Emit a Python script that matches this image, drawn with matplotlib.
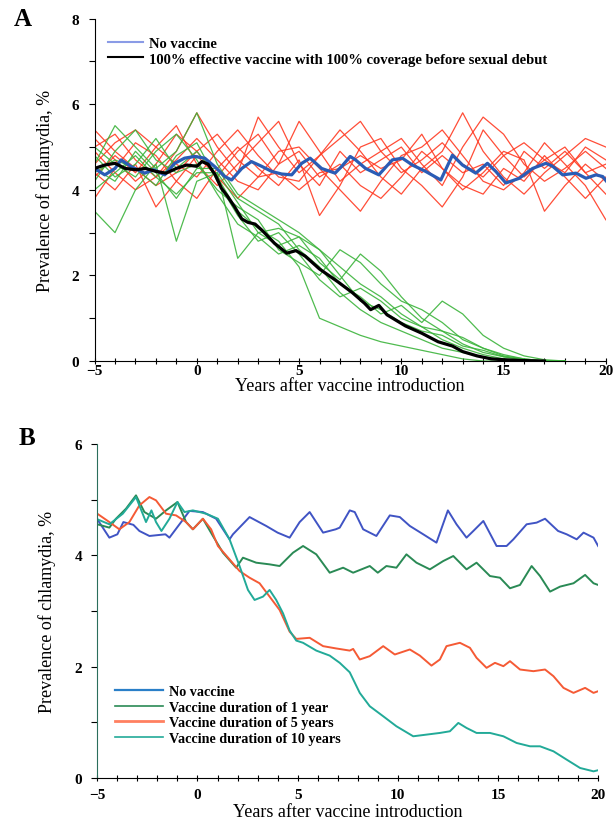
import numpy as np
import matplotlib.pyplot as plt
from matplotlib.ticker import MultipleLocator

# ---- panel A data ----
years_red = list(range(-5, 21))
red_runs = [
    [5.0, 5.3, 4.7, 4.3, 4.9, 5.8, 5.0, 4.4, 5.7, 5.0, 4.4, 4.8, 5.2, 5.6, 4.9, 4.4, 4.7, 5.1, 4.6, 4.3, 4.8, 5.1, 4.7, 4.4, 5.0, 4.7],
    [4.4, 4.0, 4.6, 3.6, 4.2, 4.8, 4.3, 4.9, 5.3, 4.6, 5.6, 4.9, 4.2, 4.6, 4.9, 5.2, 4.6, 4.1, 5.0, 5.7, 5.3, 4.6, 4.2, 4.5, 4.9, 4.5],
    [3.8, 4.5, 5.1, 4.8, 4.2, 3.8, 4.5, 5.0, 4.5, 4.1, 4.7, 3.4, 4.1, 5.0, 5.2, 4.5, 4.1, 3.6, 4.3, 5.4, 4.8, 4.3, 4.7, 5.0, 4.4, 3.9],
    [5.2, 4.7, 4.2, 4.6, 5.3, 4.9, 4.3, 3.8, 4.3, 4.9, 5.0, 4.5, 4.0, 3.5, 4.2, 4.8, 5.0, 5.4, 4.8, 4.2, 4.0, 4.4, 5.1, 4.6, 4.1, 3.3],
    [4.6, 5.1, 5.4, 5.0, 4.6, 4.3, 4.9, 5.4, 4.8, 4.3, 4.2, 4.8, 5.4, 4.9, 4.3, 3.9, 4.5, 4.9, 5.8, 4.9, 4.3, 3.9, 4.4, 4.8, 5.2, 5.0],
    [4.9, 4.4, 4.0, 4.3, 4.7, 5.2, 4.7, 4.2, 4.0, 4.6, 4.9, 4.3, 4.6, 4.1, 3.8, 4.3, 4.9, 4.5, 4.0, 4.4, 4.9, 4.7, 3.5, 4.1, 4.6, 4.2],
    [4.3, 4.8, 4.4, 5.0, 5.5, 4.6, 4.1, 4.6, 5.1, 5.6, 4.6, 4.1, 4.9, 4.4, 4.7, 5.0, 4.4, 4.8, 4.4, 4.6, 4.1, 4.9, 4.5, 4.9, 4.4, 4.6],
    [5.4, 4.9, 4.5, 4.1, 4.4, 4.9, 5.3, 4.7, 4.3, 4.4, 4.0, 4.4, 4.5, 4.8, 4.5, 4.7, 5.3, 4.5, 4.1, 3.9, 4.5, 4.2, 4.8, 4.3, 3.8, 4.3],
]

years_green = list(range(-5, 19))
green_runs = [
    [4.6, 5.5, 5.0, 4.5, 4.9, 5.8, 4.6, 3.9, 3.6, 3.3, 3.0, 2.6, 2.2, 1.8, 1.5, 1.1, 0.8, 0.5, 0.3, 0.15, 0.05, 0, 0, 0],
    [3.5, 3.0, 4.0, 4.6, 2.8, 4.2, 4.4, 2.4, 3.0, 2.7, 2.9, 2.3, 1.9, 2.5, 2.1, 1.5, 1.0, 0.7, 0.4, 0.2, 0.1, 0.03, 0, 0],
    [4.8, 4.3, 4.6, 5.2, 4.5, 4.9, 4.3, 3.5, 3.1, 2.8, 2.2, 1.0, 0.8, 0.6, 0.45, 0.35, 0.25, 0.15, 0.05, 0, 0, 0, 0, 0],
    [4.2, 4.9, 5.4, 4.7, 4.4, 4.6, 4.0, 3.6, 3.3, 2.6, 2.3, 2.0, 2.6, 2.3, 1.8, 1.4, 1.2, 0.9, 0.5, 0.3, 0.15, 0.05, 0, 0],
    [5.0, 4.6, 4.3, 4.9, 5.3, 4.7, 3.9, 3.2, 2.9, 2.5, 2.7, 2.4, 1.8, 1.5, 1.1, 1.3, 0.9, 1.4, 1.1, 0.6, 0.3, 0.12, 0.03, 0],
    [4.5, 4.2, 4.9, 4.4, 3.8, 4.5, 4.5, 3.8, 3.5, 3.2, 2.6, 2.2, 1.6, 1.2, 0.9, 0.7, 0.5, 0.3, 0.2, 0.1, 0.03, 0, 0, 0],
    [4.4, 4.7, 4.5, 4.1, 4.8, 5.1, 4.2, 3.4, 2.8, 3.0, 2.5, 1.9, 1.5, 1.7, 1.4, 1.0, 0.8, 0.7, 0.55, 0.3, 0.12, 0.05, 0, 0],
    [4.0, 4.4, 4.8, 4.3, 3.9, 4.4, 4.4, 3.7, 3.0, 3.1, 2.9, 2.6, 2.0, 1.4, 1.2, 0.9, 0.7, 0.6, 0.35, 0.25, 0.1, 0.02, 0, 0],
]

a_blue_x = [-5, -4.5, -4, -3.7, -3.2, -2.55, -2.1, -1.57, -1.08, -0.6, -0.1, 0.39, 0.88, 1.37, 1.7, 2.2, 2.67,
            3.17, 3.66, 4.15, 4.64, 5.13, 5.54, 6.1, 6.76, 7.09, 7.5, 7.76, 8.25, 8.9, 9.56, 10.05, 10.54,
            11.19, 11.93, 12.5, 12.99, 13.64, 14.21, 14.62, 15.11, 15.77, 16.42, 17.07, 17.4, 17.89, 18.54,
            19.03, 19.52, 19.85, 20.1]
a_blue_y = [4.5, 4.35, 4.5, 4.7, 4.54, 4.39, 4.47, 4.35, 4.62, 4.74, 4.78, 4.74, 4.54, 4.31, 4.23, 4.5, 4.66,
            4.55, 4.43, 4.37, 4.35, 4.62, 4.74, 4.5, 4.39, 4.55, 4.78, 4.7, 4.5, 4.35, 4.7, 4.74, 4.58,
            4.43, 4.23, 4.81, 4.58, 4.39, 4.62, 4.43, 4.16, 4.27, 4.5, 4.62, 4.55, 4.35, 4.39,
            4.27, 4.35, 4.31, 4.16]

a_black_x = [-5, -4.5, -4, -3.5, -3, -2.5, -2, -1.5, -1, -0.5, 0, 0.25, 0.55, 0.9, 1.2, 1.5, 1.85, 2.2, 2.5,
             2.85, 3.2, 3.8, 4.4, 4.85, 5.3, 6.0, 6.9, 7.6, 8.2, 8.5, 8.9, 9.3, 10.2, 11.0, 11.8, 12.5, 13.0,
             13.7, 14.4, 15.0, 16.0, 17.0]
a_black_y = [4.5, 4.58, 4.62, 4.5, 4.47, 4.5, 4.43, 4.39, 4.5, 4.58, 4.55, 4.66, 4.6, 4.35, 4.04, 3.85, 3.6,
             3.32, 3.24, 3.2, 3.05, 2.75, 2.52, 2.58, 2.45, 2.15, 1.85, 1.6, 1.35, 1.2, 1.3, 1.08, 0.82,
             0.65, 0.45, 0.35, 0.22, 0.12, 0.05, 0.03, 0.01, 0.0]

# ---- panel B data ----
b_novac_x = [-5, -4.4, -4.0, -3.7, -3.2, -2.9, -2.4, -1.6, -1.4, -0.4, 0.27, 0.93, 1.6, 1.77, 2.6, 3.43, 4.0,
             4.6, 5.1, 5.6, 6.27, 6.9, 7.1, 7.6, 7.85, 8.27, 8.93, 9.6, 10.1, 10.6, 11.27, 11.93, 12.5,
             12.93, 13.43, 13.77, 14.27, 14.93, 15.43, 15.77, 16.43, 16.93, 17.35, 18.0, 18.43, 18.93,
             19.27, 19.77, 20.0]
b_novac_y = [4.65, 4.32, 4.38, 4.6, 4.55, 4.44, 4.35, 4.38, 4.32, 4.8, 4.78, 4.66, 4.29, 4.38, 4.69, 4.53,
             4.41, 4.32, 4.6, 4.78, 4.41, 4.47, 4.5, 4.81, 4.78, 4.47, 4.35, 4.72, 4.69, 4.53, 4.38, 4.23,
             4.81, 4.56, 4.32, 4.44, 4.62, 4.17, 4.17, 4.29, 4.56, 4.59, 4.66, 4.44, 4.38, 4.29,
             4.41, 4.32, 4.17]

b_1yr_x = [-5, -4.4, -4.07, -3.57, -3.07, -2.65, -2.07, -1.57, -1.0, -0.57, -0.23, 0.27, 0.77, 1.27, 1.93,
           2.27, 2.93, 3.6, 4.1, 4.77, 5.27, 5.93, 6.6, 7.27, 7.77, 8.6, 9.0, 9.43, 9.93, 10.43, 10.93,
           11.6, 12.27, 12.77, 13.43, 13.93, 14.6, 15.1, 15.6, 16.1, 16.68, 17.1, 17.6, 18.1, 18.77, 19.35,
           19.77, 20.0]
b_1yr_y = [4.56, 4.5, 4.66, 4.84, 5.08, 4.78, 4.66, 4.81, 4.96, 4.6, 4.47, 4.66, 4.35, 4.05, 3.78,
           3.96, 3.87, 3.84, 3.81, 4.05, 4.17, 4.02, 3.69, 3.78, 3.69, 3.81, 3.69, 3.81, 3.78, 4.02, 3.87,
           3.75, 3.9, 3.99, 3.75, 3.87, 3.63, 3.6, 3.41, 3.47, 3.81, 3.63, 3.35, 3.44, 3.5, 3.65,
           3.5, 3.47]

b_5yr_x = [-5, -4.4, -3.9, -3.4, -2.9, -2.4, -2.07, -1.57, -1.07, -0.57, -0.23, 0.27, 0.68, 1.02, 1.6, 2.1,
           2.6, 3.1, 3.6, 4.1, 4.6, 4.93, 5.6, 6.27, 6.9, 7.6, 7.77, 8.1, 8.6, 9.27, 9.85, 10.6, 11.1, 11.68,
           12.1, 12.43, 13.1, 13.6, 13.93, 14.43, 14.85, 15.27, 15.6, 16.1, 16.77, 17.35, 17.77, 18.27,
           18.77, 19.35, 19.77, 20.0]
b_5yr_y = [4.75, 4.6, 4.47, 4.6, 4.9, 5.05, 4.99, 4.75, 4.72, 4.6, 4.47, 4.66, 4.47, 4.17, 3.93, 3.72,
           3.6, 3.5, 3.26, 3.02, 2.63, 2.5, 2.52, 2.37, 2.33, 2.29, 2.32, 2.13, 2.19, 2.37, 2.22, 2.31, 2.2, 2.02,
           2.13, 2.37, 2.43, 2.34, 2.16, 1.98, 2.07, 2.01, 2.1, 1.95, 1.92, 1.95, 1.83, 1.62,
           1.53, 1.62, 1.53, 1.56]

b_10yr_x = [-5, -4.4, -3.73, -3.07, -2.57, -2.3, -2.07, -1.8, -1.4, -1.0, -0.65, -0.23, 0.43, 1.02, 1.6,
            2.1, 2.52, 2.85, 3.27, 3.6, 3.93, 4.27, 4.6, 4.93, 5.27, 5.93, 6.6, 7.1, 7.6, 8.1, 8.6, 9.27,
            9.93, 10.77, 11.43, 12.1, 12.6, 13.02, 13.43, 13.93, 14.6, 15.27, 15.93, 16.6, 17.1, 17.77,
            18.43, 19.1, 19.77, 20.0]
b_10yr_y = [4.65, 4.56, 4.75, 5.05, 4.6, 4.81, 4.6, 4.44, 4.66, 4.96, 4.78, 4.81, 4.75, 4.66, 4.29,
            3.81, 3.38, 3.2, 3.26, 3.38, 3.2, 2.96, 2.65, 2.47, 2.43, 2.29, 2.2, 2.07, 1.9, 1.53, 1.29, 1.11,
            0.93, 0.75, 0.78, 0.81, 0.84, 0.99, 0.9, 0.81, 0.81, 0.75, 0.63, 0.57, 0.57, 0.48,
            0.33, 0.18, 0.12, 0.14]

xticks = [-5, 0, 5, 10, 15, 20]

serif = 'Liberation Serif'
plt.rcParams['font.family'] = serif

fig = plt.figure(figsize=(6.16, 8.29), dpi=100)
axA = fig.add_axes([0.1535, 0.5633, 0.83, 0.413])
axB = fig.add_axes([0.158, 0.0603, 0.813, 0.4027])

# panel A
for run in red_runs:
    axA.plot(years_red, run, color='#ff3a22', lw=0.9, alpha=0.9)
for run in green_runs:
    axA.plot(years_green, run, color='#3cb43c', lw=0.9, alpha=0.9)
axA.plot(a_blue_x, a_blue_y, color='#2a5cb5', lw=2.3)
axA.plot(a_black_x, a_black_y, color='black', lw=2.3)
axA.plot([], [], color='#8a9be6', lw=1.5, label='No vaccine')
axA.plot([], [], color='black', lw=1.5, label='100% effective vaccine with 100% coverage before sexual debut')
axA.set_ylim(0, 8)
axA.yaxis.set_major_locator(MultipleLocator(2))
axA.legend(loc='upper left', bbox_to_anchor=(0.0, 0.985), frameon=False,
           prop={'family': serif, 'weight': 'bold', 'size': 10.5},
           handlelength=2.4, handletextpad=0.4, labelspacing=0.15)
axA.text(-0.14, 1.0, 'A', transform=axA.transAxes, fontsize=18, fontweight='bold', va='center', ha='center')

# panel B
axB.plot(b_novac_x, b_novac_y, color='#4054c4', lw=1.4)
axB.plot(b_1yr_x, b_1yr_y, color='#2a8a55', lw=1.4)
axB.plot(b_5yr_x, b_5yr_y, color='#f55a35', lw=1.4)
axB.plot(b_10yr_x, b_10yr_y, color='#22aa98', lw=1.4)
axB.plot([], [], color='#2a7fc8', lw=1.6, label='No vaccine')
axB.plot([], [], color='#2a8a55', lw=1.2, label='Vaccine duration of 1 year')
axB.plot([], [], color='#ff8060', lw=2.0, label='Vaccine duration of 5 years')
axB.plot([], [], color='#22aa98', lw=1.2, label='Vaccine duration of 10 years')
axB.set_ylim(0, 6)
axB.yaxis.set_major_locator(MultipleLocator(2))
axB.legend(loc='lower left', bbox_to_anchor=(0.01, 0.06), frameon=False,
           prop={'family': serif, 'weight': 'bold', 'size': 10.2},
           handlelength=3.4, handletextpad=0.4, labelspacing=0.2)
axB.text(-0.14, 1.02, 'B', transform=axB.transAxes, fontsize=18, fontweight='bold', va='center', ha='center')
axB.spines['left'].set_color('#2b6e5c')

for ax, xpad, lpad in ((axA, 0, 0), (axB, 5, 1)):
    ax.set_xlim(-5, 20)
    ax.set_xticks(xticks)
    ax.xaxis.set_minor_locator(MultipleLocator(1))
    ax.yaxis.set_minor_locator(MultipleLocator(1))
    ax.spines['top'].set_visible(False)
    ax.spines['right'].set_visible(False)
    ax.spines['bottom'].set_zorder(5)
    ax.tick_params(axis='x', which='both', direction='inout', length=5, width=0.8, pad=xpad)
    ax.tick_params(axis='y', which='both', direction='out', length=4, width=0.8, pad=7)
    for lab in ax.get_xticklabels() + ax.get_yticklabels():
        lab.set_fontweight('bold')
        lab.set_fontsize(11)
    ax.set_xlabel('Years after vaccine introduction', fontsize=13, labelpad=lpad)
    ax.set_ylabel('Prevalence of chlamydia, %', fontsize=13, labelpad=13)

fig.savefig('out.png', dpi=100)
